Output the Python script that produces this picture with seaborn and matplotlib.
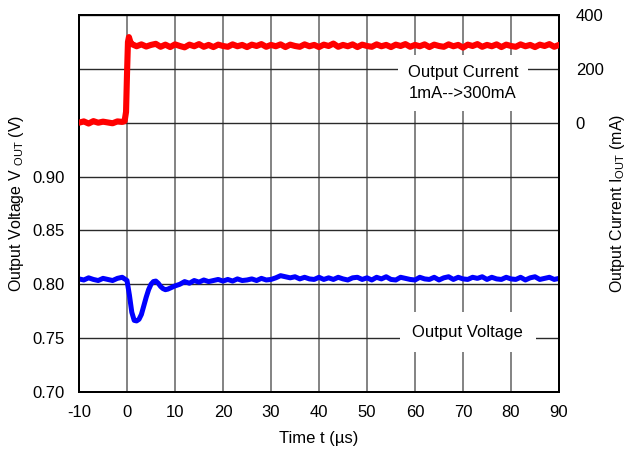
import matplotlib
matplotlib.use("Agg")
import matplotlib.pyplot as plt
import seaborn as sns
import pandas as pd

# ---------------- data ----------------
t_v = [-10, -9, -8, -7, -6, -5, -4, -3, -2, -1, -0.5, 0, 0.5, 1, 1.5, 2, 2.5, 3, 3.5, 4,
       4.5, 5, 5.5, 6, 6.5, 7, 7.5, 8, 8.5, 9, 9.5, 10, 11, 12, 13, 14, 15, 16, 17, 18,
       19, 20, 21, 22, 23, 24, 25, 26, 27, 28, 29, 30, 31, 32, 33, 34, 35, 36, 37, 38,
       39, 40, 41, 42, 43, 44, 45, 46, 47, 48, 49, 50, 51, 52, 53, 54, 55, 56, 57, 58,
       59, 60, 61, 62, 63, 64, 65, 66, 67, 68, 69, 70, 71, 72, 73, 74, 75, 76, 77, 78,
       79, 80, 81, 82, 83, 84, 85, 86, 87, 88, 89, 90]
v_out = [0.8050, 0.8040, 0.8060, 0.8045, 0.8035, 0.8055, 0.8045, 0.8035, 0.8055, 0.8065,
         0.8050, 0.8035, 0.7900, 0.7740, 0.7665, 0.7660, 0.7675, 0.7720, 0.7800, 0.7880,
         0.7950, 0.8000, 0.8025, 0.8030, 0.8010, 0.7980, 0.7960, 0.7950, 0.7955, 0.7965,
         0.7975, 0.7985, 0.8000, 0.8025, 0.8010, 0.8035, 0.8020, 0.8040, 0.8025, 0.8035,
         0.8045, 0.8030, 0.8045, 0.8030, 0.8050, 0.8035, 0.8040, 0.8050, 0.8035, 0.8055,
         0.8040, 0.8045, 0.8060, 0.8080, 0.8070, 0.8060, 0.8070, 0.8050, 0.8065, 0.8050,
         0.8045, 0.8065, 0.8045, 0.8060, 0.8045, 0.8065, 0.8050, 0.8040, 0.8060, 0.8065,
         0.8045, 0.8060, 0.8040, 0.8065, 0.8050, 0.8070, 0.8045, 0.8040, 0.8065, 0.8055,
         0.8045, 0.8040, 0.8065, 0.8050, 0.8045, 0.8065, 0.8040, 0.8060, 0.8070, 0.8045,
         0.8065, 0.8050, 0.8045, 0.8065, 0.8055, 0.8070, 0.8045, 0.8065, 0.8050, 0.8045,
         0.8065, 0.8050, 0.8045, 0.8065, 0.8040, 0.8060, 0.8070, 0.8045, 0.8055, 0.8065,
         0.8045, 0.8055]

t_i = [-10, -9, -8, -7, -6, -5, -4, -3, -2, -1, -0.5, -0.2, 0, 0.2, 0.4, 0.7, 1, 2, 3, 4,
       5, 6, 7, 8, 9, 10, 11, 12, 13, 14, 15, 16, 17, 18, 19, 20, 21, 22, 23, 24,
       25, 26, 27, 28, 29, 30, 31, 32, 33, 34, 35, 36, 37, 38, 39, 40, 41, 42, 43, 44,
       45, 46, 47, 48, 49, 50, 51, 52, 53, 54, 55, 56, 57, 58, 59, 60, 61, 62, 63, 64,
       65, 66, 67, 68, 69, 70, 71, 72, 73, 74, 75, 76, 77, 78, 79, 80, 81, 82, 83, 84,
       85, 86, 87, 88, 89, 90]
i_out = [0, 5, -3, 6, 0, 4, 1, -2, 5, 3, 6, 40, 180, 300, 318, 300, 292, 284, 291, 283,
         289, 293, 282, 290, 281, 291, 285, 280, 290, 284, 292, 282, 289, 281, 290, 285,
         282, 291, 284, 289, 281, 290, 285, 292, 282, 289, 284, 291, 281, 290, 285, 282,
         291, 284, 289, 281, 290, 285, 294, 282, 289, 284, 291, 281, 290, 285, 282, 291,
         284, 289, 281, 290, 285, 292, 282, 289, 284, 291, 281, 290, 285, 282, 291, 284,
         289, 279, 290, 285, 292, 282, 289, 284, 291, 281, 290, 285, 282, 291, 284, 289,
         281, 290, 285, 292, 282, 289]

x_ticks = [-10, 0, 10, 20, 30, 40, 50, 60, 70, 80, 90]
v_ticks = [0.70, 0.75, 0.80, 0.85, 0.90, 0.95, 1.00, 1.05]
v_tick_labels = ["0.70", "0.75", "0.80", "0.85", "0.90", "", "", ""]
i_ticks = [0, 200, 400]

df_v = pd.DataFrame({"t": t_v, "v": v_out})
df_i = pd.DataFrame({"t": t_i, "i": i_out})

# ---------------- style ----------------
sns.set_theme(style="white")
plt.rcParams["font.family"] = ["Liberation Sans", "DejaVu Sans"]
plt.rcParams["mathtext.fontset"] = "custom"
plt.rcParams["mathtext.rm"] = "Liberation Sans"
plt.rcParams["mathtext.it"] = "Liberation Sans"
plt.rcParams["text.color"] = "black"
plt.rcParams["axes.labelcolor"] = "black"
plt.rcParams["xtick.color"] = "black"
plt.rcParams["ytick.color"] = "black"
FS = 12
LFS = 11.5

fig = plt.figure(figsize=(6.29, 4.58), dpi=100)
ax = fig.add_axes([0.1256, 0.1441, 0.7631, 0.8231])
ax2 = ax.twinx()

sns.lineplot(data=df_v, x="t", y="v", ax=ax, color="#0000ff", lw=3.6,
             estimator=None, sort=False, zorder=5)
sns.lineplot(data=df_i, x="t", y="i", ax=ax2, color="#ff0000", lw=4.4,
             estimator=None, sort=False, zorder=5)

ax.set_xlim(-10, 90)
ax.set_ylim(0.70, 1.05)
ax2.set_ylim(-1000, 400)

ax.set_xticks(x_ticks)
ax.set_xticklabels([str(x) for x in x_ticks], fontsize=FS)
ax.set_yticks(v_ticks)
ax.set_yticklabels(v_tick_labels, fontsize=FS)
ax2.set_yticks(i_ticks)
ax2.set_yticklabels([str(x) for x in i_ticks], fontsize=FS)

ax.tick_params(axis="both", length=0, pad=10, colors="black")
ax.tick_params(axis="x", pad=9)
ax2.tick_params(axis="y", length=0, pad=12, colors="black")

# grid
ax.xaxis.grid(True, color="#7a7a7a", lw=1.3)
ax.yaxis.grid(True, color="#2a2a2a", lw=1.0)
ax.set_axisbelow(True)

for a in (ax, ax2):
    for s in a.spines.values():
        s.set_color("black")
        s.set_linewidth(1.4)
        s.set_visible(True)

ax.set_xlabel("Time t (µs)", fontsize=FS, labelpad=8)
ax.set_ylabel(r"Output Voltage V $_{\mathrm{OUT}}$ (V)", fontsize=LFS, labelpad=5, y=0.5)
ax2.set_ylabel(r"Output Current I$_{\mathrm{OUT}}$ (mA)", fontsize=LFS, labelpad=3,
               y=0.5, rotation=90)

ax.text(0.80, 0.821, "Output Current\n1mA-->300mA", transform=ax.transAxes,
        ha="center", va="center", fontsize=FS, linespacing=1.5,
        bbox=dict(boxstyle="square,pad=0.6", fc="white", ec="none"), zorder=3)
ax.text(0.81, 0.159, "Output Voltage", transform=ax.transAxes,
        ha="center", va="center", fontsize=FS,
        bbox=dict(boxstyle="square,pad=0.75", fc="white", ec="none"), zorder=3)

fig.savefig("out.png", dpi=100)
